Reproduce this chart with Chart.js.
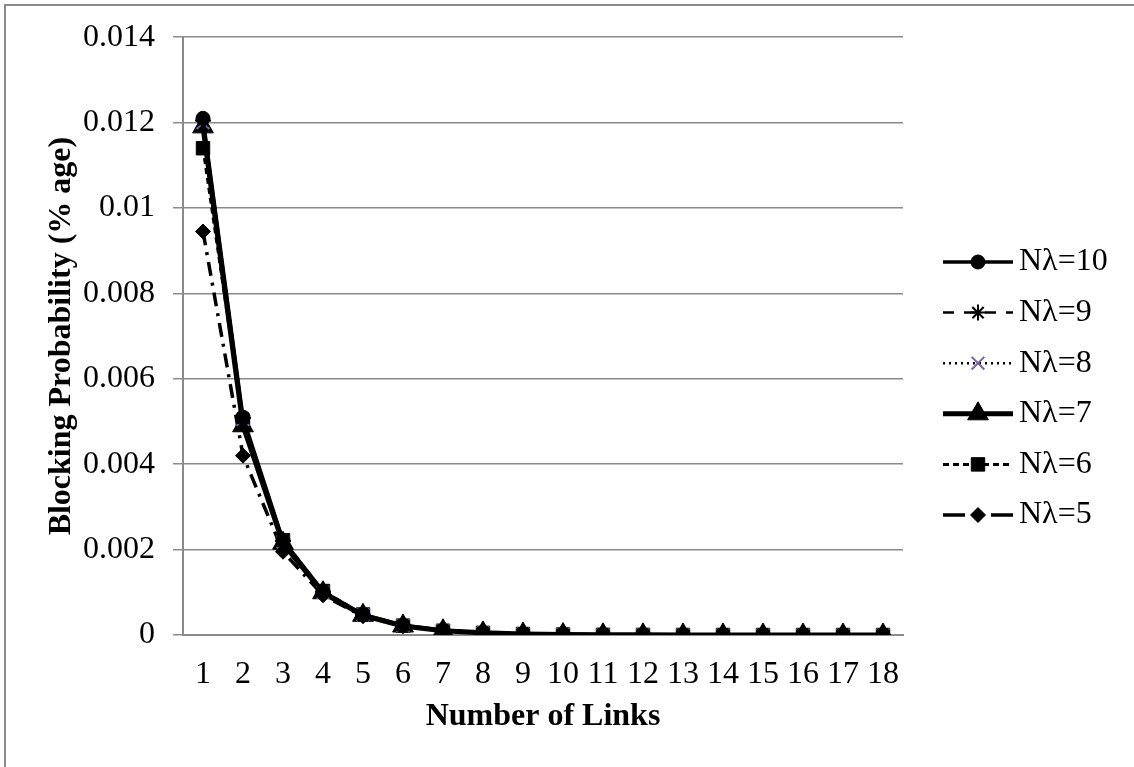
<!DOCTYPE html>
<html>
<head>
<meta charset="utf-8">
<script src="https://cdn.jsdelivr.net/npm/chart.js@4/dist/chart.umd.min.js"></script>
<style>
  html, body { margin: 0; padding: 0; background: #ffffff; }
  #wrap { width: 1134px; height: 767px; position: relative; }
</style>
</head>
<body>
<div id="wrap"><canvas id="chart" width="1134" height="767"></canvas></div>
<script>
// Number of links on the horizontal axis
const links = ['1','2','3','4','5','6','7','8','9','10','11','12','13','14','15','16','17','18'];

// Blocking probability for each offered load
const nl10 = [0.0121, 0.0051, 0.00222, 0.00102, 0.00048, 0.00023, 0.00011, 0.00005, 0.000025, 0.000012, 0.000006, 0.000003, 0.0000015, 0.0000008, 0.0000004, 0.0000002, 0.0000001, 0.00000005];
const nl9  = [0.01205, 0.00508, 0.0022, 0.00101, 0.00047, 0.00022, 0.00010, 0.00005, 0.000024, 0.000011, 0.000006, 0.000003, 0.0000014, 0.0000007, 0.0000004, 0.0000002, 0.0000001, 0.00000005];
const nl8  = [0.0120, 0.00505, 0.00218, 0.00100, 0.00047, 0.00022, 0.00010, 0.00005, 0.000024, 0.000011, 0.000005, 0.000003, 0.0000014, 0.0000007, 0.0000003, 0.0000002, 0.0000001, 0.00000005];
const nl7  = [0.0119, 0.0049, 0.00215, 0.00099, 0.00046, 0.00021, 0.00010, 0.00005, 0.000023, 0.000011, 0.000005, 0.000003, 0.0000013, 0.0000007, 0.0000003, 0.0000002, 0.0000001, 0.00000005];
const nl6  = [0.0114, 0.0050, 0.00222, 0.00103, 0.00048, 0.00022, 0.00010, 0.00005, 0.000024, 0.000011, 0.000005, 0.000003, 0.0000013, 0.0000007, 0.0000003, 0.0000002, 0.0000001, 0.00000005];
const nl5  = [0.00945, 0.0042, 0.00195, 0.00093, 0.00044, 0.00021, 0.00010, 0.00005, 0.000023, 0.000011, 0.000005, 0.000002, 0.0000012, 0.0000006, 0.0000003, 0.0000001, 0.0000001, 0.00000005];

const seriesNames = ['N\u03bb=10', 'N\u03bb=9', 'N\u03bb=8', 'N\u03bb=7', 'N\u03bb=6', 'N\u03bb=5'];

// Vertical axis tick labels, bottom to top
const yTickLabels = ['0', '0.002', '0.004', '0.006', '0.008', '0.01', '0.012', '0.014'];

const FONT = "'Liberation Serif', 'Times New Roman', serif";
const GRID = '#8a8a8a';

const datasets = [
  { label: seriesNames[0], data: nl10, borderColor: '#000', borderWidth: 3.5, borderDash: [],
    pointStyle: 'circle', pointRadius: 7, pointBackgroundColor: '#000', pointBorderColor: '#000', pointBorderWidth: 1 },
  { label: seriesNames[1], data: nl9, borderColor: '#000', borderWidth: 2.5, borderDash: [9, 6],
    legendDash: [11, 10],
    pointStyle: 'star', pointRadius: 8, pointBackgroundColor: '#000', pointBorderColor: '#000', pointBorderWidth: 2 },
  { label: seriesNames[2], data: nl8, borderColor: '#000', borderWidth: 2.5, borderDash: [2, 4],
    pointStyle: 'crossRot', pointRadius: 9, pointBackgroundColor: '#7b62a0', pointBorderColor: '#7b62a0', pointBorderWidth: 2 },
  { label: seriesNames[3], data: nl7, borderColor: '#000', borderWidth: 5, borderDash: [],
    pointStyle: 'triangle', pointRadius: 12, pointBackgroundColor: '#000', pointBorderColor: '#000', pointBorderWidth: 1 },
  { label: seriesNames[4], data: nl6, borderColor: '#000', borderWidth: 3, borderDash: [6, 4],
    pointStyle: 'rect', pointRadius: 9.5, pointBackgroundColor: '#000', pointBorderColor: '#000', pointBorderWidth: 1 },
  { label: seriesNames[5], data: nl5, borderColor: '#000', borderWidth: 3.5, borderDash: [14, 7, 3, 7],
    legendDash: [22, 26],
    pointStyle: 'rectRot', pointRadius: 7.5, pointBackgroundColor: '#000', pointBorderColor: '#000', pointBorderWidth: 1 }
];
datasets.forEach(d => { d.tension = 0; d.fill = false; d.pointHoverRadius = d.pointRadius; });

// Outer frame of the chart object
const framePlugin = {
  id: 'frame',
  beforeDraw(chart) {
    const ctx = chart.ctx;
    ctx.save();
    ctx.fillStyle = '#ffffff';
    ctx.fillRect(0, 0, chart.width, chart.height);
    ctx.strokeStyle = GRID;
    ctx.lineWidth = 2;
    ctx.strokeRect(5, 5, chart.width + 10, chart.height + 10);
    ctx.restore();
  }
};

// Legend with a line sample and marker for each series
const sideLegend = {
  id: 'sideLegend',
  afterDraw(chart) {
    const ctx = chart.ctx;
    const x0 = 943, x1 = 1013, textX = 1019;
    const top = 262, step = 50.6;
    chart.data.datasets.forEach((ds, i) => {
      const y = top + i * step;
      ctx.save();
      ctx.strokeStyle = ds.borderColor;
      ctx.lineWidth = ds.borderWidth;
      ctx.setLineDash(ds.legendDash || ds.borderDash || []);
      ctx.beginPath();
      ctx.moveTo(x0, y);
      ctx.lineTo(x1, y);
      ctx.stroke();
      ctx.setLineDash([]);
      ctx.fillStyle = ds.pointBackgroundColor;
      ctx.strokeStyle = ds.pointBorderColor;
      ctx.lineWidth = ds.pointBorderWidth;
      Chart.helpers.drawPoint(ctx, {
        pointStyle: ds.pointStyle, radius: ds.pointRadius, rotation: 0, borderWidth: ds.pointBorderWidth
      }, (x0 + x1) / 2, y);
      ctx.fillStyle = '#000';
      ctx.font = '32px ' + FONT;
      ctx.textAlign = 'left';
      ctx.textBaseline = 'middle';
      ctx.fillText(ds.label, textX, y);
      ctx.restore();
    });
  }
};

new Chart(document.getElementById('chart'), {
  type: 'line',
  data: { labels: links, datasets },
  options: {
    responsive: false,
    devicePixelRatio: 1,
    animation: false,
    layout: { padding: { left: 0, top: 36, right: 231, bottom: 0 } },
    plugins: { legend: { display: false }, tooltip: { enabled: false } },
    scales: {
      x: {
        type: 'category',
        offset: true,
        grid: { display: false, drawTicks: false },
        border: { display: true, color: GRID, width: 2 },
        ticks: { color: '#000', font: { family: FONT, size: 32 }, padding: 20, maxRotation: 0, autoSkip: false },
        title: { display: true, text: 'Number of Links', color: '#000',
                 font: { family: FONT, size: 32, weight: 'bold' }, padding: { top: 0, bottom: 31 } },
        afterFit(scale) { scale.height = 132; }
      },
      y: {
        min: 0, max: 0.014,
        grid: { color: GRID, lineWidth: 1.5, drawTicks: true, tickLength: 10, tickColor: GRID },
        border: { display: true, color: GRID, width: 2 },
        ticks: {
          stepSize: 0.002, color: '#000', padding: 18,
          font: { family: FONT, size: 32 },
          callback: (v, i) => yTickLabels[i]
        },
        title: { display: true, text: 'Blocking Probability (% age)', color: '#000',
                 font: { family: FONT, size: 32, weight: 'bold' }, padding: { top: 43, bottom: 0 } },
        afterFit(scale) { scale.width = 183; }
      }
    }
  },
  plugins: [framePlugin, sideLegend]
});
</script>
</body>
</html>
